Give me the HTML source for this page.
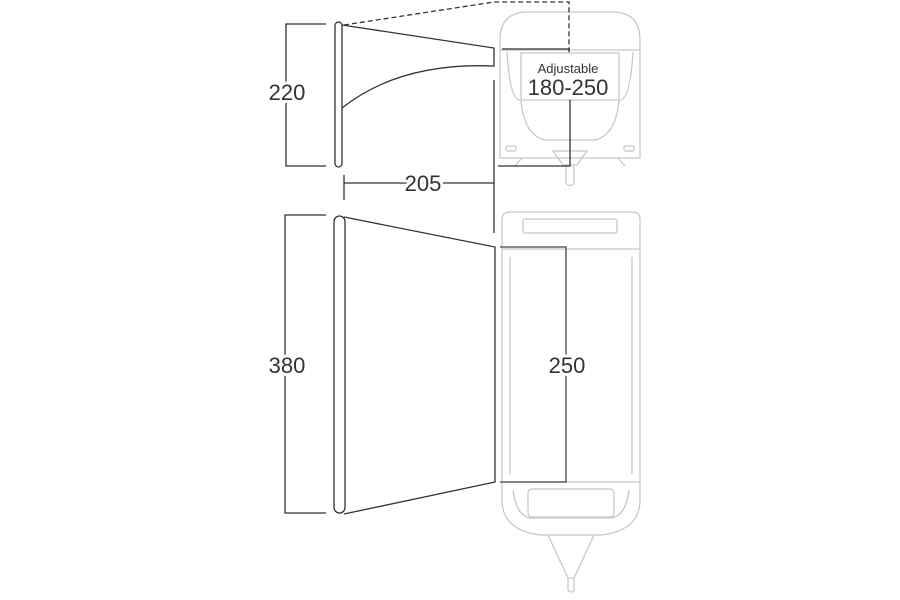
<!DOCTYPE html>
<html><head><style>body{margin:0;background:#fff}svg{display:block}</style></head><body>
<svg width="900" height="600" viewBox="0 0 900 600" xmlns="http://www.w3.org/2000/svg" font-family="Liberation Sans, sans-serif">
<g fill="none" stroke="#c8c8c8" stroke-width="1.3">
  <!-- caravan front -->
  <path d="M500 158 V40 Q500 12 528 12 H612 Q640 12 640 40 V158 Z"/>
  <path d="M500 50 H640"/>
  <path d="M521 53 H619 V100 H521 Z"/>
  <path d="M521 100 Q524 135 545 140 H595 Q616 135 619 100"/>
  <path d="M507 52 Q510 100 520 100"/>
  <path d="M633 52 Q630 100 620 100"/>
  <rect x="506" y="146" width="10" height="5" rx="1.5"/>
  <rect x="624" y="146" width="10" height="5" rx="1.5"/>
  <path d="M522 158 L515 166 M618 158 L625 166"/>
  <path d="M553 151 H587 L577 165 H563 Z"/>
  <path d="M566 165 V183 Q570 188 574 183 V165"/>
  <!-- caravan top view -->
  <path d="M502 482 V220 Q502 212 510 212 H632 Q640 212 640 220 V482"/>
  <rect x="523" y="219" width="94" height="14" rx="2"/>
  <path d="M502 249 H640 M502 482 H640"/>
  <path d="M510 257 V474 M632 257 V474"/>
  <path d="M502 482 V500 Q502 530 540 535 H602 Q640 530 640 500 V482"/>
  <path d="M513 490 Q516 515 530 518 H612 Q626 515 629 490"/>
  <rect x="528" y="489" width="86" height="28" rx="4"/>
  <path d="M548 535 L568 578 H574 L594 535"/>
  <path d="M568 578 V590 Q571 594 574 590 V578"/>
</g>
<g fill="none" stroke="#333" stroke-width="1.3">
  <!-- dims -->
  <path d="M326 24 H286 V166 H326"/>
  <path d="M326 215 H285 V513 H326"/>
  <path d="M344 175 V200 M344 183 H494"/>
  <path d="M494 80 V233"/>
  <path d="M498 166 H570 V100"/>
  <path d="M502 49 H570"/>
  <path d="M344 25 L494 2 H569 V55" stroke-dasharray="5,3"/>
  <!-- poles -->
  <rect x="335" y="22" width="7" height="145" rx="3.5"/>
  <rect x="334" y="216" width="11" height="297" rx="5.5"/>
  <!-- awning side -->
  <path d="M342 25 L494 48 V66 Q400 62 342 108"/>
  <path d="M344 217 L495 247 V482 L344 514"/>
  <path d="M500 247 H566 V482 H500" stroke="#444"/>
</g>
<g fill="#333" text-anchor="middle">
  <text x="287" y="100" font-size="22" fill="#333" stroke="#fff" stroke-width="6" paint-order="stroke">220</text>
  <text x="287" y="373" font-size="22" stroke="#fff" stroke-width="6" paint-order="stroke">380</text>
  <text x="423" y="191" font-size="22" stroke="#fff" stroke-width="6" paint-order="stroke">205</text>
  <text x="567" y="373" font-size="22" stroke="#fff" stroke-width="6" paint-order="stroke">250</text>
  <text x="568" y="73" font-size="13">Adjustable</text>
  <text x="568" y="95" font-size="22">180-250</text>
</g>
</svg>
</body></html>
